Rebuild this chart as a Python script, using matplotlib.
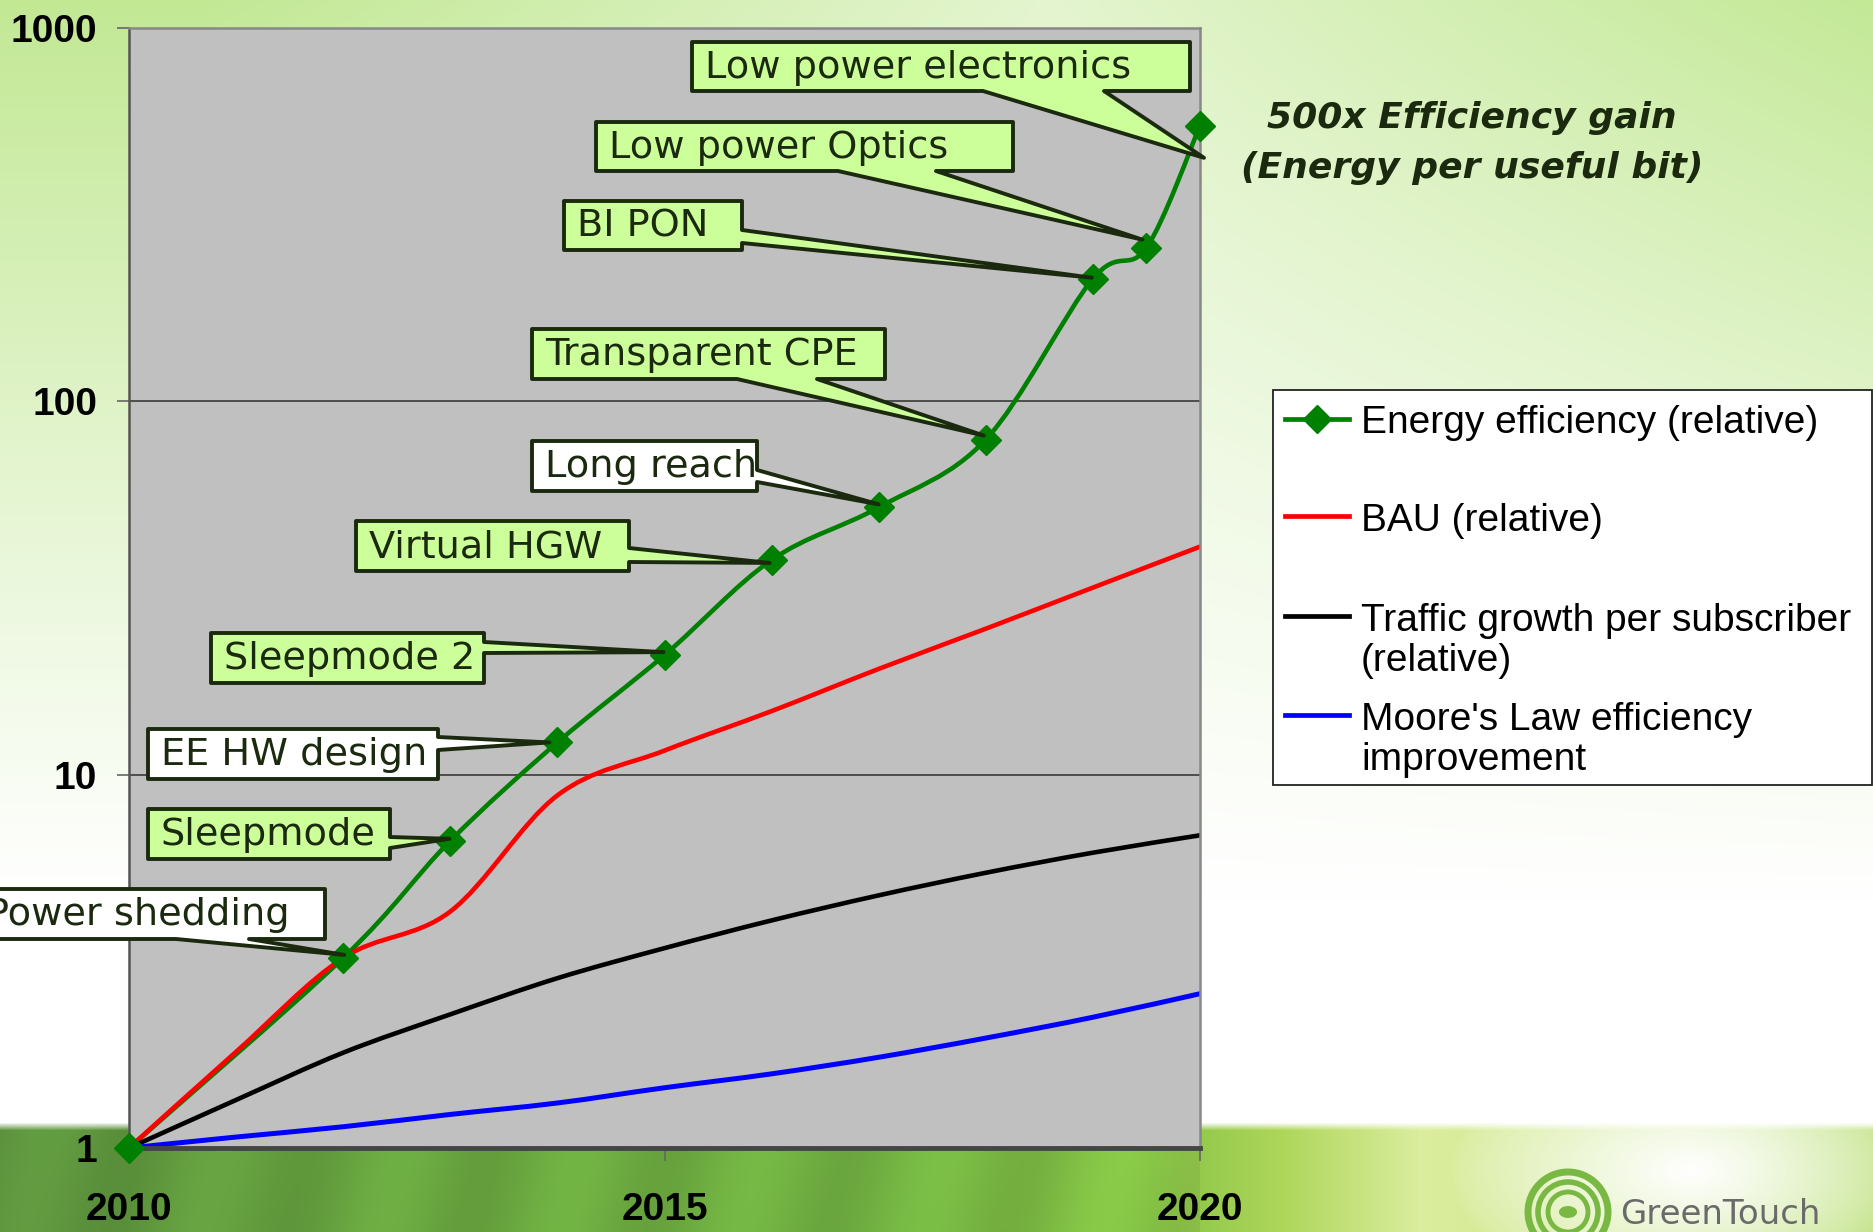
import numpy as np
import matplotlib
matplotlib.use("Agg")
import matplotlib.pyplot as plt
from matplotlib.path import Path
from matplotlib.patches import PathPatch, Polygon, Rectangle, Ellipse
from matplotlib.lines import Line2D
from matplotlib.ticker import NullLocator

W, H = 1874, 1232

# ---- values (log scale, relative to 2010) ----
years = [2010, 2011, 2012, 2013, 2014, 2015, 2016, 2017, 2018, 2019, 2020]
bau = [1, 1.81, 3.23, 4.3, 8.8, 11.6, 14.8, 19.2, 24.6, 31.7, 40.8]
traffic = [1, 1.345, 1.80, 2.28, 2.85, 3.43, 4.07, 4.75, 5.46, 6.18, 6.88]
moore = [1, 1.07, 1.14, 1.23, 1.32, 1.45, 1.58, 1.75, 1.97, 2.24, 2.59]

ee_years = [2010, 2012, 2013, 2014, 2015, 2016, 2017, 2018, 2019, 2019.5, 2020]
ee_vals = [1, 3.23, 6.65, 12.2, 20.9, 37.6, 52, 79, 213, 258, 547]
ee_labels = [None, "Power shedding", "Sleepmode", "EE HW design", "Sleepmode 2",
             "Virtual HGW", "Long reach", "Transparent CPE", "BI PON",
             "Low power Optics", "Low power electronics"]

legend_labels = ["Energy efficiency (relative)", "BAU (relative)",
                 "Traffic growth per subscriber\n(relative)",
                 "Moore's Law efficiency\nimprovement"]
colors = ["#008000", "#ff0000", "#000000", "#0000ff"]

LIGHT = "#ccff99"
DARK = "#1b2a0f"


def fx(x):
    return x / W


def fy(y):
    return 1 - y / H


def smooth_path(xs, ys):
    # excel-style smoothed line: bezier through the points, in (x, log y) space
    P = np.column_stack([xs, np.log10(ys)])
    n = len(P)
    verts, codes = [P[0]], [Path.MOVETO]
    for i in range(n - 1):
        p0, p1, p2, p3 = P[max(i - 1, 0)], P[i], P[i + 1], P[min(i + 2, n - 1)]
        verts += [p1 + (p2 - p0) / 6, p2 - (p3 - p1) / 6, p2]
        codes += [Path.CURVE4] * 3
    V = np.array(verts)
    V[:, 1] = 10 ** V[:, 1]
    return Path(V, codes)


fig = plt.figure(figsize=(W / 100, H / 100), dpi=100)

# ---- slide background ----
yy, xx = np.mgrid[0:H, 0:W].astype(float)
g_top = np.array([0.76, 0.91, 0.58])
wt = np.clip(1 - yy / 900, 0, 1) ** 1.1
xm = 0.45 + 0.55 * np.clip(np.abs(xx - 1050) / 850, 0, 1)
w = (wt * xm)[..., None]
bg = 1 - w * (1 - g_top)

sx = [0, 400, 900, 1150, 1280, 1420, 1874]
band = np.stack([np.interp(xx, sx, [0.36, 0.41, 0.45, 0.52, 0.68, 0.86, 0.72]),
                 np.interp(xx, sx, [0.57, 0.65, 0.70, 0.76, 0.84, 0.93, 0.87]),
                 np.interp(xx, sx, [0.24, 0.25, 0.26, 0.27, 0.35, 0.62, 0.45])], axis=-1)
stripe = np.sin(2 * np.pi * (xx + 0.25 * (yy - 1128)) / 180)
band = band * (1 + 0.06 * stripe * (xx < 1200))[..., None]
d = np.sqrt(((xx - 1690) / 240) ** 2 + ((yy - 1170) / 130) ** 2)
wg = (np.clip(1 - d, 0, 1) ** 0.7)[..., None]
band = band * (1 - wg) + wg
mb = np.clip((yy - 1122) / 8, 0, 1)[..., None]
bg = bg * (1 - mb) + band * mb
bgax = fig.add_axes([0, 0, 1, 1])
bgax.imshow(np.clip(bg, 0, 1), extent=(0, 1, 0, 1), aspect="auto", interpolation="bilinear")
bgax.set_axis_off()
bgax.set_zorder(-5)

# ---- chart ----
ax = fig.add_axes([fx(129), fy(1148), (1200 - 129) / W, (1148 - 28) / H])
ax.set_facecolor("#c0c0c0")
ax.set_yscale("log")
ax.set_xlim(2010, 2020)
ax.set_ylim(1, 1000)
ax.set_xticks([2010, 2015, 2020])
ax.set_yticks([1, 10, 100, 1000])
ax.set_yticklabels(["1", "10", "100", "1000"])
ax.yaxis.set_minor_locator(NullLocator())
ax.grid(axis="y", which="major", color="#3a3a3a", lw=1.2)
ax.tick_params(axis="both", direction="out", length=9, width=1.2, color="#666666")
ax.tick_params(axis="y", pad=14)
ax.tick_params(axis="x", pad=23)
for lab in ax.get_xticklabels() + ax.get_yticklabels():
    lab.set_fontfamily("Liberation Sans")
    lab.set_fontweight("bold")
    lab.set_fontsize(28)
for s in ["top", "right"]:
    ax.spines[s].set_color("#888888")
    ax.spines[s].set_linewidth(1.8)
ax.spines["left"].set_color("#555555")
ax.spines["left"].set_linewidth(1.8)
ax.spines["bottom"].set_color("#454545")
ax.spines["bottom"].set_linewidth(3.5)

series = [(ee_years, ee_vals, colors[0], 3.3), (years, bau, colors[1], 3.3),
          (years, traffic, colors[2], 3.3), (years, moore, colors[3], 3.6)]
for i, (xs, ys, c, lw) in enumerate(series):
    ax.add_patch(PathPatch(smooth_path(xs, ys), facecolor="none", edgecolor=c,
                           lw=lw, capstyle="round", zorder=2 + i * 0.1))
ax.plot(ee_years, ee_vals, ls="none", marker="D", ms=15, color=colors[0],
        mec=colors[0], zorder=4, clip_on=False)

# ---- callouts (box px coords; wedge base; tip offset from the marker) ----
layout = {
    "Power shedding": ((-39, 889, 325, 939), "white", "bottom", (176, 249), (1, -3)),
    "Sleepmode": ((148, 809, 390, 859), LIGHT, "right", (837, 848), (-1, -2)),
    "EE HW design": ((148, 729, 438, 779), "white", "right", (737, 750), (-8, 0)),
    "Sleepmode 2": ((211, 633, 484, 683), LIGHT, "right", (642, 653), (-1, -3)),
    "Virtual HGW": ((356, 521, 629, 571), LIGHT, "right", (548, 562), (-2, 3)),
    "Long reach": ((532, 441, 757, 491), "white", "right", (470, 482), (0, -3)),
    "Transparent CPE": ((532, 329, 885, 379), LIGHT, "bottom", (737, 817), (-2, -4)),
    "BI PON": ((564, 201, 742, 250), LIGHT, "right", (230, 243), (-1, -1)),
    "Low power Optics": ((596, 122, 1013, 171), LIGHT, "bottom", (838, 936), (-4, -8)),
    "Low power electronics": ((692, 42, 1190, 91), LIGHT, "bottom", (983, 1104), (4, 32)),
}
text_pad = {"Power shedding": 25}
for yr, v, lab in zip(ee_years, ee_vals, ee_labels):
    if lab is None:
        continue
    (x0, y0, x1, y1), fc, side, (a, b), (dx, dy) = layout[lab]
    px, py = ax.transData.transform((yr, v))
    tip = (px + dx, H - py + dy)
    if side == "bottom":
        pts = [(x0, y0), (x1, y0), (x1, y1), (b, y1), tip, (a, y1), (x0, y1)]
    else:
        pts = [(x0, y0), (x1, y0), (x1, a), tip, (x1, b), (x1, y1), (x0, y1)]
    fig.add_artist(Polygon([(fx(p), fy(q)) for p, q in pts], closed=True,
                           transform=fig.transFigure, facecolor=fc, edgecolor=DARK,
                           lw=2.8, joinstyle="round", zorder=3))
    fig.text(fx(x0 + text_pad.get(lab, 13)), fy((y0 + y1) / 2 + 1), lab,
             ha="left", va="center", fontsize=27.5, color=DARK,
             family="DejaVu Sans", zorder=4)

fig.text(fx(1472), fy(143), "500x Efficiency gain\n(Energy per useful bit)",
         ha="center", va="center", multialignment="center", linespacing=1.6,
         fontsize=26, fontweight="bold", fontstyle="italic", color=DARK,
         family="DejaVu Sans")

# ---- legend (excel-style box) ----
fig.add_artist(Rectangle((fx(1273), fy(785)), (1872 - 1273) / W, (785 - 390) / H,
                         transform=fig.transFigure, facecolor="white",
                         edgecolor="#222222", lw=1.3, zorder=3))
for lab, c, ly, ty in zip(legend_labels, colors, [419, 516, 616, 715], [423, 521, 641, 740]):
    fig.add_artist(Line2D([fx(1285), fx(1317), fx(1349)], [fy(ly)] * 3,
                          transform=fig.transFigure, color=c, lw=3.4,
                          marker="D" if c == colors[0] else None, ms=14,
                          markevery=[1], zorder=4))
    fig.text(fx(1361), fy(ty), lab, ha="left", va="center", fontsize=28,
             family="Liberation Sans", color="black", linespacing=1.15, zorder=4)

# ---- logo ----
for r, lw in [(40, 5), (30, 4), (20, 3.5)]:
    fig.add_artist(Ellipse((fx(1568), fy(1212)), 2 * r / W, 2 * r / H,
                           transform=fig.transFigure, facecolor="none",
                           edgecolor="#78b843", lw=lw, zorder=2))
fig.add_artist(Ellipse((fx(1568), fy(1212)), 18 / W, 12 / H, angle=40,
                       transform=fig.transFigure, facecolor="#78b843",
                       edgecolor="none", zorder=2))
fig.text(fx(1620), fy(1224), "GreenTouch", ha="left", va="baseline",
         fontsize=24.5, color="#6a6a6a", family="DejaVu Sans", zorder=2)

fig.savefig("out.png", dpi=100)
